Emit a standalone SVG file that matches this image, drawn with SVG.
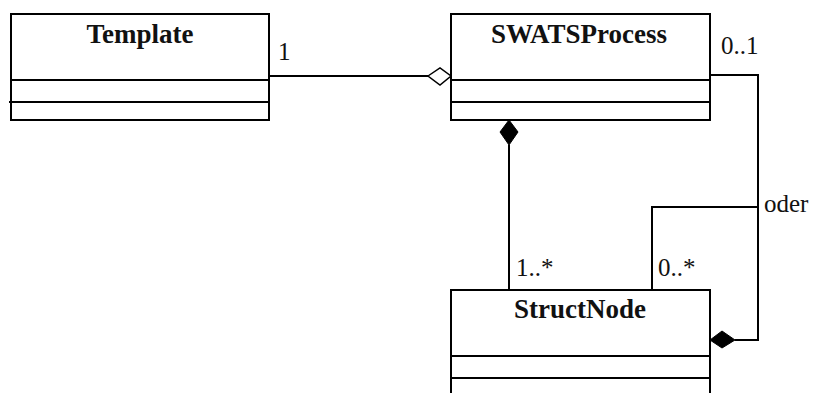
<svg xmlns="http://www.w3.org/2000/svg" width="813" height="393" viewBox="0 0 813 393">
  <style>
    .box { fill: #fff; stroke: #000; stroke-width: 2; }
    .sep { stroke: #000; stroke-width: 2; }
    .title { font-family: "Liberation Serif", "Times New Roman", serif; font-weight: bold; font-size: 27px; text-anchor: middle; fill: #111; }
    .lbl { font-family: "Liberation Serif", "Times New Roman", serif; font-size: 25px; fill: #111; }
    .wire { fill: none; stroke: #000; stroke-width: 2; }
    .hollow { fill: #fff; stroke: #000; stroke-width: 1.5; }
    .solid { fill: #000; stroke: #000; stroke-width: 1; }
  </style>

  <!-- connectors -->
  <g id="connectors">
    <!-- Template 1 — aggregation — SWATSProcess -->
    <line class="wire" x1="269" y1="76" x2="428" y2="76"/>
    <polygon class="hollow" points="428,76 440,68 451,76 440,85"/>
    <!-- SWATSProcess composition 1..* StructNode -->
    <line class="wire" x1="509" y1="145" x2="509" y2="290"/>
    <polygon class="solid" points="509,120 518,132 509,145 500,132"/>
    <!-- SWATSProcess 0..1 / StructNode 0..* → StructNode composition (oder) -->
    <polyline class="wire" points="710,75 758,75 758,340 735,340"/>
    <polyline class="wire" points="652,290 652,207 758,207"/>
    <polygon class="solid" points="710,340 722,331 735,340 722,348"/>
    <text class="lbl" x="278" y="60">1</text>
    <text class="lbl" x="721" y="54">0..1</text>
    <text class="lbl" x="516" y="276">1..*</text>
    <text class="lbl" x="658" y="276">0..*</text>
    <text class="lbl" x="764" y="212">oder</text>
  </g>

  <!-- Template class -->
  <g id="template">
    <rect class="box" x="11" y="14" width="258" height="106"/>
    <line class="sep" x1="11" y1="80" x2="269" y2="80"/>
    <line class="sep" x1="9" y1="102" x2="269" y2="102"/>
    <text class="title" x="140" y="43">Template</text>
  </g>

  <!-- SWATSProcess class -->
  <g id="swatsprocess">
    <rect class="box" x="451" y="14" width="259" height="106"/>
    <line class="sep" x1="451" y1="80" x2="710" y2="80"/>
    <line class="sep" x1="451" y1="102" x2="710" y2="102"/>
    <text class="title" x="579" y="43">SWATSProcess</text>
  </g>

  <!-- StructNode class -->
  <g id="structnode">
    <rect class="box" x="451" y="290" width="259" height="120"/>
    <line class="sep" x1="451" y1="356" x2="710" y2="356"/>
    <line class="sep" x1="451" y1="378" x2="710" y2="378"/>
    <text class="title" x="580" y="318">StructNode</text>
  </g>
</svg>
